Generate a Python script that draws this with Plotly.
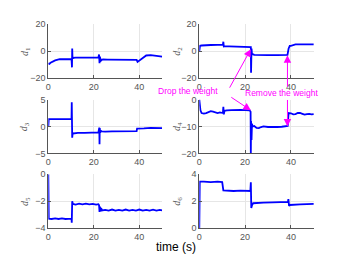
import plotly.graph_objects as go
from plotly.subplots import make_subplots

# ---- data ----
t1 = [0, 0.5, 1, 2, 3, 5, 7, 9, 10.2, 10.4, 10.5, 10.6, 10.8, 11, 12, 14, 16, 18, 20, 22, 22.3, 22.5, 22.7, 22.9, 23.1,
      23.5, 24, 26, 30, 34, 38, 38.8, 39.2, 40, 41, 42, 43, 45, 47, 50]
d1 = [-9, -9.5, -8.5, -7.5, -6.8, -6, -5.8, -5.8, -5.8, -12, 2, -4, -5.5, -5, -4.8, -4.7, -4.6, -4.6, -4.7, -4.8, -2.5,
      -9, -4, -8, -6, -6.5, -6.2, -6.3, -6.4, -6.5, -6.6, -6.5, -8, -7, -5.5, -4.5, -3.2, -3, -3.3, -4]

t2 = [0, 0.3, 1, 3, 5, 8, 10.3, 10.5, 10.7, 11, 13, 16, 20, 22.3, 22.5, 22.6, 22.8, 23, 24, 26, 30, 34, 38, 38.5, 39,
      39.5, 40, 42, 44, 50]
d2 = [0, 4, 4.2, 4.5, 4.6, 4.7, 4.7, 7, 3.5, 3.6, 3.6, 3.5, 3.5, 3.4, 3, -16, 2, -2, -2.8, -3, -3, -3, -3, -2.8, 2, 4,
      4, 5, 5, 5]

t3 = [0, 0.2, 2, 5, 8, 10.2, 10.3, 10.5, 10.7, 11, 13, 16, 19, 22, 22.4, 22.5, 22.6, 22.8, 23, 23.5, 25, 28, 32, 36,
      38.8, 39, 40, 42, 45, 48, 50]
d3 = [0, 1.35, 1.35, 1.35, 1.35, 1.35, 4.5, -2.1, -1.2, -1.3, -1.2, -1.2, -1.15, -1.1, -0.2, -3.3, -0.3, -1.2, -0.8,
      -0.9, -0.95, -0.9, -0.9, -0.85, -0.85, -0.4, -0.4, -0.35, -0.25, -0.3, -0.3]

t4 = [0, 0.5, 1, 2, 3, 4, 5, 6, 7, 8, 9, 10.3, 10.5, 10.7, 11, 12, 14, 16, 18, 20, 22, 22.4, 22.5, 22.6, 22.8, 23,
      23.3, 24, 25, 26, 27, 28, 30, 32, 34, 36, 38, 38.6, 39, 40, 41, 42, 43, 44, 45, 46, 47, 48, 49, 50]
d4 = [0, -4, -5, -5.2, -5, -4.6, -4.3, -4.5, -4.8, -5, -4.8, -5, -2.7, -5.5, -4.2, -4, -3.9, -3.8, -3.8, -3.9, -4,
      -4.5, -20, -8, -15, -9, -10, -9.8, -10.5, -10.6, -10.2, -10, -10.2, -10.3, -10.2, -10.1, -10, -9.8, -5, -5.1,
      -5.5, -5.4, -5, -5, -5.3, -5.6, -5.4, -5.3, -5.5, -5.4]

t5 = [0, 0.2, 1.5, 3, 4.5, 6, 7.5, 9, 10.2, 10.3, 10.5, 10.8, 12, 13.5, 15, 16.5, 18, 19.5, 21, 22, 22.3, 22.5, 22.7,
      22.9, 23.2, 23.6, 25, 26.5, 28, 29.5, 31, 32.5, 34, 35.5, 37, 38.5, 40, 41.5, 43, 44.5, 46, 47.5, 49, 50]
d5 = [0, -3.3, -3.32, -3.28, -3.32, -3.28, -3.32, -3.28, -3.3, -3.6, -2.0, -2.2, -2.25, -2.18, -2.24, -2.18, -2.24,
      -2.2, -2.25, -2.22, -2.3, -2.8, -2.4, -2.75, -2.5, -2.68, -2.64, -2.7, -2.62, -2.7, -2.64, -2.7, -2.62, -2.7,
      -2.64, -2.7, -2.62, -2.7, -2.64, -2.7, -2.63, -2.7, -2.64, -2.68]

t6 = [0, 0.2, 2, 5, 8, 10, 10.5, 12, 15, 18, 21, 22.3, 22.5, 22.7, 23, 23.5, 25, 28, 32, 36, 38.7, 38.9, 39.2, 39.5,
      41, 44, 47, 50]
d6 = [0, 3.45, 3.45, 3.42, 3.45, 3.42, 2.8, 2.78, 2.76, 2.78, 2.76, 2.76, 3.4, 1.5, 1.7, 1.85, 1.88, 1.9, 1.92, 1.93,
      1.95, 2.15, 1.65, 1.72, 1.75, 1.76, 1.78, 1.8]

x_ticks = [0, 20, 40]
y_ranges = [[-20, 20], [-20, 20], [-5, 5], [-20, 0], [-4, 0], [0, 4]]
y_ticks = [[-20, 0, 20], [-20, 0, 20], [-5, 0, 5], [-20, -10, 0], [-4, -2, 0], [0, 2, 4]]
y_names = ["1", "2", "3", "4", "5", "6"]

series = [(t1, d1), (t2, d2), (t3, d3), (t4, d4), (t5, d5), (t6, d6)]

W, H = 349, 262
col_dom = [[45.7 / W, 160.5 / W], [198 / W, 313.5 / W]]
row_pix = [(20, 76), (98.3, 154.3), (176, 232)]
row_dom = [[1 - b / H, 1 - a / H] for a, b in row_pix]

fig = make_subplots(rows=3, cols=2)
tick_font = dict(family="Liberation Sans, Arial, sans-serif", size=9, color="#555555")

annotations = []
for i, (t, v) in enumerate(series):
    r, c = i // 2 + 1, i % 2 + 1
    fig.add_trace(go.Scatter(x=t, y=v, mode="lines", line=dict(color="#0000ff", width=1.8),
                             showlegend=False, hoverinfo="skip"), row=r, col=c)
    fig.update_xaxes(range=[0, 50], tickvals=x_ticks, domain=col_dom[c - 1], showline=True,
                     linecolor="#555555", linewidth=1, ticks="inside", ticklen=3, tickcolor="#555555",
                     showgrid=True, gridcolor="#e6e6e6", gridwidth=1, zeroline=False, tickfont=tick_font,
                     row=r, col=c)
    fig.update_yaxes(range=y_ranges[i], tickvals=y_ticks[i], domain=row_dom[r - 1], showline=True,
                     linecolor="#555555", linewidth=1, ticks="inside", ticklen=3, tickcolor="#555555",
                     showgrid=True, gridcolor="#e6e6e6", gridwidth=1, zeroline=False, tickfont=tick_font,
                     row=r, col=c)
    lx = (22 if c == 1 else 176) / W
    ly = (row_dom[r - 1][0] + row_dom[r - 1][1]) / 2
    annotations.append(dict(text="<i>d</i><sub>" + y_names[i] + "</sub>", xref="paper", yref="paper",
                            x=lx, y=ly, showarrow=False, textangle=-90,
                            font=dict(family="Liberation Serif, Times New Roman, serif", size=10,
                                      color="#555555"),
                            xanchor="center", yanchor="middle"))

annotations.append(dict(text="time (s)", xref="paper", yref="paper", x=174 / W, y=1 - 252 / H,
                        showarrow=False, xanchor="center", yanchor="middle",
                        font=dict(family="Liberation Sans, Arial, sans-serif", size=12, color="#000000")))

mag = "#ff00ff"
lab_font = dict(family="Liberation Sans, Arial, sans-serif", size=8.5, color=mag)
annotations.append(dict(text="Drop the weight", xref="paper", yref="paper", x=187 / W, y=1 - 89 / H,
                        showarrow=False, xanchor="center", yanchor="middle", font=lab_font))
annotations.append(dict(text="Remove the weight", xref="paper", yref="paper", x=281 / W, y=1 - 92 / H,
                        showarrow=False, xanchor="center", yanchor="middle", font=lab_font))

arrow_style = dict(showarrow=True, arrowhead=2, arrowsize=1.5, arrowwidth=1, arrowcolor=mag, text="",
                   axref="pixel", ayref="pixel")
annotations.append(dict(xref="x2", yref="y2", x=22.5, y=1.5, ax=-22, ay=40, **arrow_style))
annotations.append(dict(xref="x4", yref="y4", x=22.5, y=-4, ax=-21, ay=-14, **arrow_style))
annotations.append(dict(xref="x2", yref="y2", x=38.5, y=-3, ax=0, ay=33, **arrow_style))
annotations.append(dict(xref="x4", yref="y4", x=38.5, y=-10, ax=0, ay=-28, **arrow_style))

fig.update_layout(width=W, height=H, margin=dict(l=0, r=0, t=0, b=0),
                  paper_bgcolor="white", plot_bgcolor="white", annotations=annotations,
                  showlegend=False)

fig.write_html("out.html", config={"displayModeBar": False},
               post_script="document.body.style.margin='0';document.body.style.overflow='hidden';")
